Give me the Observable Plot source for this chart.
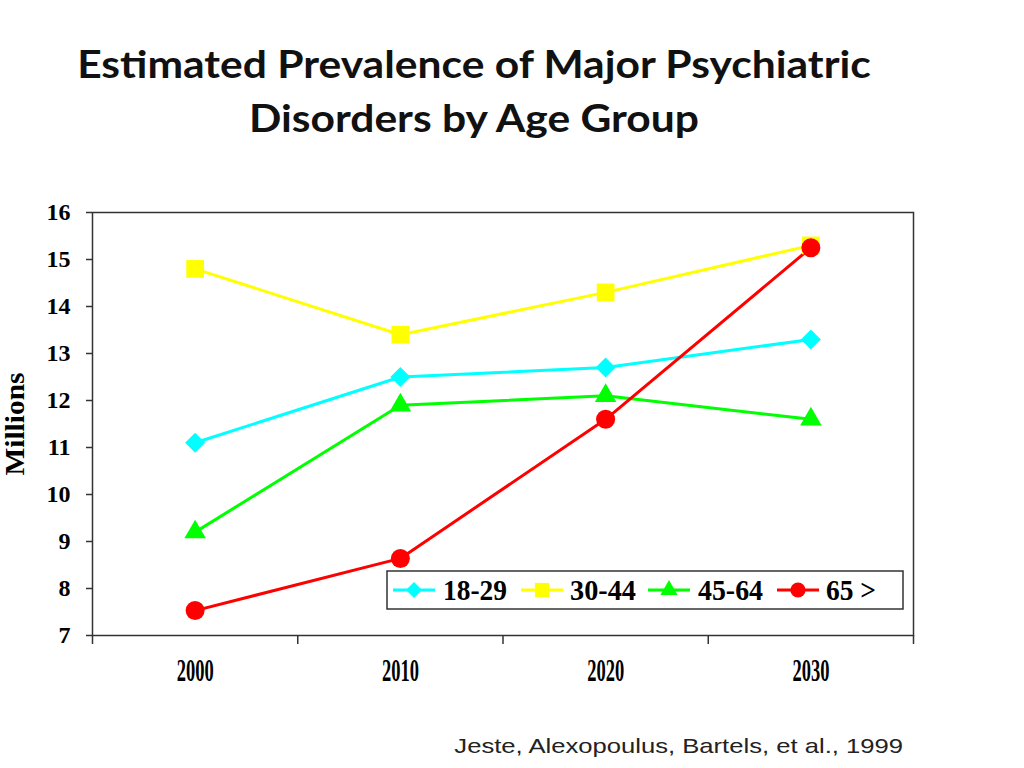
<!DOCTYPE html>
<html>
<head>
<meta charset="utf-8">
<script src="https://cdn.jsdelivr.net/npm/d3@7"></script>
<script src="https://cdn.jsdelivr.net/npm/@observablehq/plot@0.6"></script>
<style>
  html, body { margin: 0; padding: 0; background: #fff; }
  #wrap { position: relative; width: 1024px; height: 768px; overflow: hidden; }
  #title { position: absolute; left: 0; top: 36px; width: 948px; text-align: center;
    font-family: Lato, "Open Sans", sans-serif; font-weight: bold; font-size: 38px; line-height: 54px; color: #111;
    transform: scaleX(1.12); transform-origin: 474px 0; }
  #chart { position: absolute; left: 0; top: 170px; }
  #legend { position: absolute; left: 386px; top: 570px; }
  #caption { position: absolute; top: 734px; left: 0; width: 903px; text-align: right;
    font-family: "Liberation Sans", Arial, sans-serif; font-size: 21px; color: #222;
    transform: scaleX(1.22); transform-origin: 903px 0; }
</style>
</head>
<body>
<div id="wrap">
  <div id="title">Estimated Prevalence of Major Psychiatric<br>Disorders by Age Group</div>
  <div id="chart"></div>
  <svg id="legend" width="520" height="42"></svg>
  <div id="caption">Jeste, Alexopoulus, Bartels, et al., 1999</div>
</div>
<script>
const years = [2000, 2010, 2020, 2030];
const seriesNames = ["18-29", "30-44", "45-64", "65 >"];
const age18_29 = [11.1, 12.5, 12.7, 13.3];
const age30_44 = [14.8, 13.4, 14.3, 15.3];
const age45_64 = [9.2, 11.9, 12.1, 11.6];
const age65plus = [7.53, 8.64, 11.6, 15.25];
const yTicks = [7, 8, 9, 10, 11, 12, 13, 14, 15, 16];
const xBoundaries = [1995, 2005, 2015, 2025, 2035];

const colors = ["#00ffff", "#ffff00", "#00ff00", "#ff0000"];
const symbols = ["diamond2", "square", "triangle", "circle"];
const radii = [9, 10, 8, 9.5];
const valuesBySeries = [age18_29, age30_44, age45_64, age65plus];

const rows = [];
seriesNames.forEach((s, i) => years.forEach((y, j) => rows.push({series: s, year: y, value: valuesBySeries[i][j]})));

const marks = [];
seriesNames.forEach((s, i) => {
  const d = rows.filter(r => r.series === s);
  marks.push(Plot.line(d, {x: "year", y: "value", stroke: colors[i], strokeWidth: 3}));
});
seriesNames.forEach((s, i) => {
  const d = rows.filter(r => r.series === s);
  marks.push(Plot.dot(d, {x: "year", y: "value", fill: colors[i], symbol: symbols[i], r: radii[i], stroke: "none"}));
});

const serif = "'Liberation Serif', 'Times New Roman', serif";
const chart = Plot.plot({
  width: 1024,
  height: 540,
  marginTop: 42,
  marginLeft: 92,
  marginRight: 111,
  marginBottom: 75,
  style: {background: "white", overflow: "visible"},
  x: {domain: [1995, 2035]},
  y: {domain: [7, 16]},
  marks: [
    Plot.frame({stroke: "#333", strokeWidth: 1.5}),
    Plot.axisX({ticks: xBoundaries, tickFormat: () => "", tickSize: 9, stroke: "#333", strokeWidth: 1.5, label: null}),
    Plot.axisX({ticks: years, tickFormat: d => String(d), tickSize: 0, tickPadding: 23, label: null, fill: "#000"}),
    Plot.axisY({ticks: yTicks, tickSize: 6, tickPadding: 16, stroke: "#333", strokeWidth: 1.5, fill: "#000",
      label: "Millions", labelAnchor: "center", labelOffset: 88, labelArrow: "none"}),
    ...marks
  ]
});
document.getElementById("chart").appendChild(chart);

// font styling for axis texts
const yearStr = years.map(String), yStr = yTicks.map(String);
d3.select(chart).selectAll("text").each(function() {
  const t = this.textContent.trim();
  const el = d3.select(this).style("font-family", serif).style("font-weight", "bold").style("fill", "#000");
  if (yearStr.includes(t)) el.style("font-size", "32px").attr("textLength", 37).attr("lengthAdjust", "spacingAndGlyphs");
  else if (yStr.includes(t)) el.style("font-size", "24px");
  else if (t.startsWith("Millions")) el.style("font-size", "28px").attr("textLength", 103).attr("lengthAdjust", "spacingAndGlyphs");
});

// Legend (boxed, inside plot area)
const lg = d3.select("#legend");
lg.append("rect").attr("x", 1).attr("y", 1).attr("width", 516).attr("height", 38)
  .attr("fill", "#fff").attr("stroke", "#333").attr("stroke-width", 1.5);
const lineStarts = [7, 135, 262, 391];
const textStarts = [57, 184, 312, 440];
const textLengths = [64, 66, 65, 50];
seriesNames.forEach((s, i) => {
  const x0 = lineStarts[i];
  lg.append("line").attr("x1", x0).attr("x2", x0 + 42).attr("y1", 20).attr("y2", 20)
    .attr("stroke", colors[i]).attr("stroke-width", 3);
  const symType = [d3.symbolDiamond2, d3.symbolSquare, d3.symbolTriangle, d3.symbolCircle][i];
  const rr = radii[i] * 0.8;
  lg.append("path").attr("transform", `translate(${x0 + 21},20)`)
    .attr("d", d3.symbol(symType, Math.PI * rr * rr)()).attr("fill", colors[i]);
  lg.append("text").attr("x", textStarts[i]).attr("y", 30).text(s)
    .attr("font-family", serif).attr("font-weight", "bold").attr("font-size", 29).attr("fill", "#000")
    .attr("textLength", textLengths[i]).attr("lengthAdjust", "spacingAndGlyphs");
});
</script>
</body>
</html>
